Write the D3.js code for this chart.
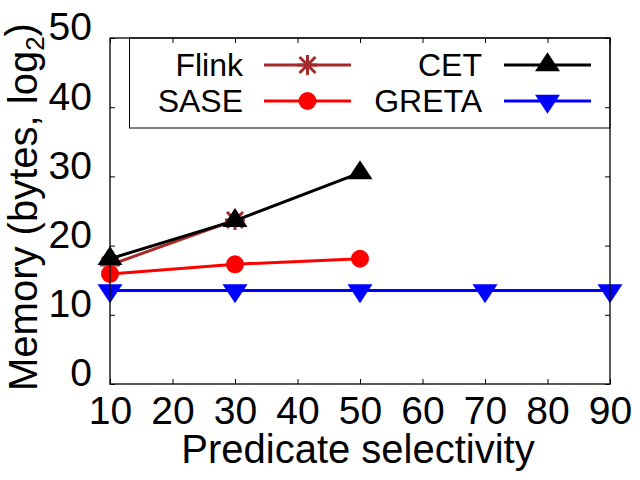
<!DOCTYPE html>
<html>
<head>
<meta charset="utf-8">
<script src="https://cdn.jsdelivr.net/npm/d3@7"></script>
<style>
  body { margin: 0; background: #fff; }
  svg { display: block; font-family: "Liberation Sans", Arial, sans-serif; }
</style>
</head>
<body>
<svg id="chart" width="640" height="480"></svg>
<script>
// data
var selectivity = [10, 30, 50, 70, 90];
var flinkMem = [17.2, 23.7];
var saseMem = [15.9, 17.3, 18.1];
var cetMem = [18.1, 23.6, 30.5];
var gretaMem = [13.5, 13.5, 13.5, 13.5, 13.5];
var xTicks = [10, 20, 30, 40, 50, 60, 70, 80, 90];
var yTicks = [0, 10, 20, 30, 40, 50];

var series = [
  {name: "Flink", values: flinkMem, color: "#a52a2a", marker: "star"},
  {name: "SASE", values: saseMem, color: "#ff0000", marker: "circle"},
  {name: "CET", values: cetMem, color: "#000000", marker: "triUp"},
  {name: "GRETA", values: gretaMem, color: "#0000ff", marker: "triDown"}
];

var svg = d3.select("#chart"),
    plotL = 110, plotR = 610, plotT = 38, plotB = 384;

var x = d3.scaleLinear().domain([10, 90]).range([plotL, plotR]);
var y = d3.scaleLinear().domain([0, 50]).range([plotB, plotT]);

// marker shapes, centred on the point (triangles on their centroid)
function markerPath(type) {
  if (type == "triUp") return "M0,-12.7L12.5,6.3L-12.5,6.3Z";
  if (type == "triDown") return "M0,12.7L12.5,-6.3L-12.5,-6.3Z";
  if (type == "circle") return d3.symbol(d3.symbolCircle, Math.PI * 81)();
  // asterisk: plus and cross
  return "M0,-10V10M-10,0H10M-8,-8L8,8M-8,8L8,-8";
}

function drawMarker(g, type, color, cx, cy) {
  var p = g.append("path")
    .attr("d", markerPath(type))
    .attr("transform", "translate(" + cx + "," + cy + ")");
  if (type == "star") p.attr("fill", "none").attr("stroke", color).attr("stroke-width", 3);
  else p.attr("fill", color);
}

// axes, ticks pointing inward and mirrored
var tickFont = "39px";
var xAxis = svg.append("g")
  .attr("transform", "translate(0," + plotB + ")")
  .call(d3.axisBottom(x).tickValues(xTicks).tickSizeInner(-5).tickSizeOuter(0).tickPadding(12));
var yAxis = svg.append("g")
  .attr("transform", "translate(" + plotL + ",0)")
  .call(d3.axisLeft(y).tickValues(yTicks).tickSizeInner(-5).tickSizeOuter(0).tickPadding(18));
svg.append("g")
  .attr("transform", "translate(0," + plotT + ")")
  .call(d3.axisTop(x).tickValues(xTicks).tickSizeInner(-5).tickSizeOuter(0).tickFormat(""));
svg.append("g")
  .attr("transform", "translate(" + plotR + ",0)")
  .call(d3.axisRight(y).tickValues(yTicks).tickSizeInner(-5).tickSizeOuter(0).tickFormat(""));

svg.selectAll(".domain").remove();
svg.selectAll(".tick line").attr("stroke", "#000").attr("stroke-width", 1);
svg.selectAll(".tick text").attr("fill", "#000").style("font-size", tickFont);
xAxis.selectAll(".tick text").attr("dy", "0.71em");
yAxis.selectAll(".tick text").attr("dy", "0.05em");

// legend box
svg.append("rect")
  .attr("x", 129.5).attr("y", plotT)
  .attr("width", plotR - 129.5).attr("height", 90)
  .attr("fill", "none").attr("stroke", "#000").attr("stroke-width", 1);

// data lines and markers
series.forEach(function(s) {
  var pts = s.values.map(function(v, i) { return [x(selectivity[i]), y(v)]; });
  svg.append("path")
    .attr("d", d3.line()(pts))
    .attr("fill", "none")
    .attr("stroke", s.color)
    .attr("stroke-width", 3);
  var g = svg.append("g");
  pts.forEach(function(p) { drawMarker(g, s.marker, s.color, p[0], p[1]); });
});

// plot frame
svg.append("rect")
  .attr("x", plotL).attr("y", plotT)
  .attr("width", plotR - plotL).attr("height", plotB - plotT)
  .attr("fill", "none").attr("stroke", "#000").attr("stroke-width", 1.3);

// legend entries
var legendPos = [
  {textX: 243, lineX: [264, 351], y: 65},
  {textX: 243, lineX: [264, 351], y: 101},
  {textX: 482, lineX: [504, 591], y: 65},
  {textX: 482, lineX: [504, 591], y: 101}
];
series.forEach(function(s, i) {
  var lp = legendPos[i];
  svg.append("text")
    .attr("x", lp.textX).attr("y", lp.y + 11)
    .attr("text-anchor", "end")
    .style("font-size", "32px")
    .text(s.name);
  svg.append("line")
    .attr("x1", lp.lineX[0]).attr("x2", lp.lineX[1])
    .attr("y1", lp.y).attr("y2", lp.y)
    .attr("stroke", s.color).attr("stroke-width", 3);
  drawMarker(svg, s.marker, s.color, (lp.lineX[0] + lp.lineX[1]) / 2, lp.y);
});

// axis titles
svg.append("text")
  .attr("x", 358).attr("y", 463)
  .attr("text-anchor", "middle")
  .style("font-size", "40px")
  .text("Predicate selectivity");

var yTitle = svg.append("text")
  .attr("transform", "translate(37,207) rotate(-90)")
  .attr("text-anchor", "middle")
  .style("font-size", "40px");
yTitle.append("tspan").text("Memory (bytes, log");
yTitle.append("tspan").attr("dy", "0.25em").style("font-size", "26px").text("2");
yTitle.append("tspan").attr("dy", "-0.25em").text(")");
</script>
</body>
</html>
